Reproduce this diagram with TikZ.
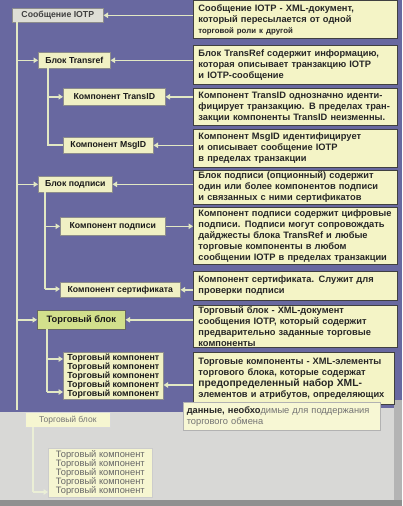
\documentclass[tikz,border=0pt]{standalone}
\usepackage{fontspec}
\setmainfont{Liberation Sans}
\usetikzlibrary{arrows.meta}
\definecolor{bgblue}{RGB}{104,104,160}
\definecolor{bggray}{RGB}{216,216,214}
\definecolor{edgegray}{RGB}{180,180,180}
\definecolor{paleY}{RGB}{244,244,198}
\definecolor{nodeY}{RGB}{240,240,196}
\definecolor{lineC}{RGB}{226,232,196}
\definecolor{tradeG}{RGB}{210,224,140}
\definecolor{msggray}{RGB}{222,222,214}
\tikzset{
  desc/.style={draw=black!75, line width=0.9pt, fill=paleY, anchor=north west,
    inner xsep=5pt, inner ysep=1pt, align=left, text=black!85,
    font=\fontsize{9.3}{11}\selectfont\bfseries},
  lbox/.style={draw=black!45, line width=0.6pt, fill=nodeY, anchor=north west,
    inner sep=0pt, text=black!90, font=\fontsize{8.7}{10}\selectfont\bfseries},
  conn/.style={draw=lineC, line width=1.6pt},
  arr/.style={conn, -{Triangle[length=4.5pt,width=5.5pt]}},
}
\begin{document}
\begin{tikzpicture}[x=1pt,y=-1pt]
\useasboundingbox (0,0) rectangle (402,506);
% background
\fill[bggray] (0,0) rectangle (402,506);
\fill[bgblue] (0,0) rectangle (402,408);
\fill[bgblue] (0,400) rectangle (190,412);
\fill[edgegray] (394,400) rectangle (402,500);
\fill[edgegray!80!black] (0,500) rectangle (402,506);

% left nodes
\node[lbox, fill=msggray, text=black!75, minimum width=91pt, minimum height=14pt] (n1) at (12,8) {Сообщение IOTP};
\node[lbox, minimum width=72pt, minimum height=16pt] (n2) at (38,52) {Блок Transref};
\node[lbox, minimum width=102pt, minimum height=17pt] (n3) at (63,88) {Компонент TransID};
\node[lbox, minimum width=90pt, minimum height=16pt] (n4) at (63,137) {Компонент MsgID};
\node[lbox, minimum width=74pt, minimum height=16pt] (n5) at (38,176) {Блок подписи};
\node[lbox, minimum width=105pt, minimum height=18pt] (n6) at (60,217) {Компонент подписи};
\node[lbox, minimum width=120pt, minimum height=15pt] (n7) at (60,282) {Компонент сертификата};
\node[lbox, fill=tradeG, draw=black!60, minimum width=88pt, minimum height=19pt, font=\fontsize{9.3}{10}\selectfont\bfseries] (n8) at (37,310) {Торговый блок};
\node[lbox, minimum width=100pt, minimum height=47pt, align=center, font=\fontsize{8.8}{9}\selectfont\bfseries] (n9) at (63,352)
  {Торговый компонент\\Торговый компонент\\Торговый компонент\\Торговый компонент\\Торговый компонент};

% description boxes
\node[desc, minimum width=204pt, minimum height=38pt, text width=194pt] (d1) at (193,0)
  {Сообщение IOTP - XML-документ,\\который пересылается от одной\\{\fontsize{7.8}{9}\selectfont торговой роли к другой}};
\node[desc, minimum width=204pt, minimum height=39pt, text width=194pt] (d2) at (193,45)
  {Блок TransRef содержит информацию,\\которая описывает транзакцию IOTP\\и IOTP-сообщение};
\node[desc, minimum width=204pt, minimum height=37pt, text width=194pt] (d3) at (193,88)
  {Компонент TransID однозначно иденти-\\фицирует транзакцию. В пределах тран-\\закции компоненты TransID неизменны.};
\node[desc, minimum width=204pt, minimum height=38pt, text width=194pt] (d4) at (193,129)
  {Компонент MsgID идентифицирует\\и описывает сообщение IOTP\\в пределах транзакции};
\node[desc, minimum width=204pt, minimum height=34pt, text width=194pt] (d5) at (193,170)
  {Блок подписи (опционный) содержит\\один или более компонентов подписи\\и связанных с ними сертификатов};
\node[desc, minimum width=204pt, minimum height=57pt, text width=194pt] (d6) at (193,207)
  {Компонент подписи содержит цифровые\\подписи. Подписи могут сопровождать\\дайджесты блока TransRef и любые\\торговые компоненты в любом\\сообщении IOTP в пределах транзакции};
\node[desc, minimum width=204pt, minimum height=29pt, text width=194pt] (d7) at (193,271)
  {Компонент сертификата. Служит для\\проверки подписи};
\node[desc, minimum width=204pt, minimum height=42pt, text width=194pt] (d8) at (193,305)
  {Торговый блок - XML-документ\\сообщения IOTP, который содержит\\предварительно заданные торговые\\компоненты};
\node[desc, minimum width=201pt, minimum height=52pt, text width=191pt, anchor=north west] (d9) at (193,352)
  {Торговые компоненты - XML-элементы\\торгового блока, которые содержат\\{\fontsize{10.3}{11}\selectfont предопределенный набор XML-}\\элементов и атрибутов, определяющих};
\node[draw=black!30, line width=0.6pt, fill=paleY!75!white, anchor=north west, minimum width=197pt, minimum height=28pt,
  text width=190pt, inner xsep=3pt, align=left, font=\fontsize{9.3}{10.8}\selectfont, text=black!55] (d10) at (183,402)
  {{\bfseries\color{black!85}данные, необхо}димые для поддержания\\торгового обмена};

% faded bottom part
\node[lbox, draw=black!15, fill=paleY!80!white, text=black!55, minimum width=85pt, minimum height=15pt,
  font=\fontsize{8.5}{10}\selectfont] (n10) at (25,412) {Торговый блок};
\node[lbox, draw=black!20, fill=paleY!80!white, text=black!60, minimum width=104pt, minimum height=49pt, align=center,
  font=\fontsize{9.3}{9}\selectfont] (n11) at (48,448)
  {Торговый компонент\\Торговый компонент\\Торговый компонент\\Торговый компонент\\Торговый компонент};

% trunk
\coordinate (t0) at (17,22);
\coordinate (t1) at (17,410);
\draw[conn] (t0) -- (t1);
\draw[arr] (t0 |- n2.west) -- (n2.west);
\draw[arr] (t0 |- n5.west) -- (n5.west);
\draw[arr] (t0 |- n8.west) -- (n8.west);

% Transref branch
\coordinate (a0) at (48,68);
\coordinate (a1) at (48,145);
\draw[conn] (a0) -- (a1) -- (a1 -| n4.west);
\draw[arr] (a0 |- n3.west) -- (n3.west);

% signature branch
\coordinate (b0) at (45,192);
\coordinate (b1) at (45,289);
\draw[conn] (b0) -- (b1);
\draw[arr] (b0 |- n6.west) -- (n6.west);
\draw[arr] (b1) -- (b1 -| n7.west);

% trade branch
\coordinate (c0) at (47,329);
\coordinate (c1) at (47,359);
\coordinate (c2) at (47,392);
\draw[conn] (c0) -- (c2);
\draw[arr] (c1) -- (c1 -| n9.west);
\draw[arr] (c2) -- (c2 -| n9.west);

% faded branch
\coordinate (f0) at (33,427);
\coordinate (f1) at (33,492);
\draw[conn, draw=lineC!70!white] (f0) -- (f1);
\draw[arr, draw=lineC!70!white] (f1) -- (f1 -| n11.west);

% description arrows
\draw[arr] (d1.west |- n1.east) -- (n1.east);
\draw[arr] (d2.west |- n2.east) -- (n2.east);
\draw[arr] (d3.west |- n3.east) -- (n3.east);
\draw[arr] (d4.west |- n4.east) -- (n4.east);
\draw[arr] (d5.west |- n5.east) -- (n5.east);
\draw[arr] (n6.east) -- (d6.west |- n6.east);
\draw[arr] (d7.west |- n7.east) -- (n7.east);
\draw[arr] (d8.west |- n8.east) -- (n8.east);
\coordinate (d9y) at (0,385);
\draw[arr] (d9.west |- d9y) -- (n9.east |- d9y);
\end{tikzpicture}
\end{document}
